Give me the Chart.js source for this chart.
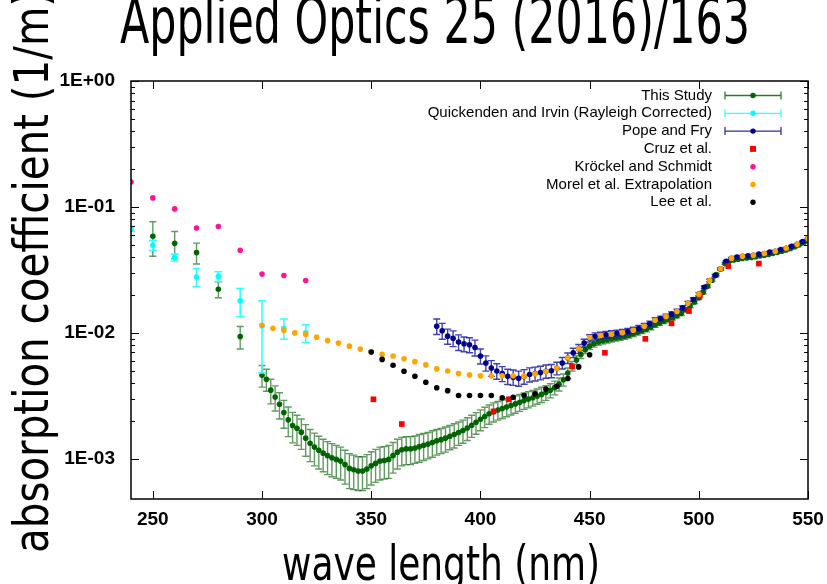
<!DOCTYPE html>
<html>
<head>
    <title>Absorption coefficient</title>
    <script src="https://cdn.jsdelivr.net/npm/chart.js"></script>
    <style>
        body { margin: 0; background: #fff; overflow: hidden; }
    </style>
</head>
<body>
    <canvas id="absChart" width="827" height="584"></canvas>

    <script>
        // axis ticks
        var xTicks = [250, 300, 350, 400, 450, 500, 550];
        var yTicks = [1, 0.1, 0.01, 0.001];
        var yTickLabels = ['1E+00', '1E-01', '1E-02', '1E-03'];

        // This Study (value, +/- error)
        var studyWl = [250, 260, 270, 280, 290,
            300, 302, 304, 306, 308, 310,
            312, 314, 316, 318, 320, 322, 324, 326, 328, 330,
            332, 334, 336, 338, 340, 342, 344, 346, 348, 350,
            352, 354, 356, 358, 360, 362, 364, 366, 368, 370,
            372, 374, 376, 378, 380, 382, 384, 386, 388, 390,
            392, 394, 396, 398, 400, 402, 404, 406, 408, 410,
            412, 414, 416, 418, 420, 422, 424, 426, 428, 430,
            432, 434, 436, 438, 440, 442, 444, 446, 448, 450,
            452, 454, 456, 458, 460, 462, 464, 466, 468, 470,
            472, 474, 476, 478, 480, 482, 484, 486, 488, 490,
            492, 494, 496, 498, 500, 502, 504, 506, 508, 510,
            512, 514, 516, 518, 520, 522, 524, 526, 528, 530,
            532, 534, 536, 538, 540, 542, 544, 546, 548, 550];
        var studyAbs = [0.0584, 0.0514, 0.0434, 0.0222, 0.00935,
            0.00461, 0.00429, 0.00351, 0.00310, 0.00271, 0.00233,
            0.00204, 0.00184, 0.00175, 0.00163, 0.00146, 0.00133, 0.00124, 0.00117, 0.00111, 0.00106,
            0.00102, 0.00099, 0.00096, 0.00090, 0.00084, 0.00082, 0.00080, 0.00080, 0.00083, 0.00088,
            0.00092, 0.00096, 0.00097, 0.00099, 0.00106, 0.00113, 0.00118, 0.00120, 0.00120, 0.00122,
            0.00125, 0.00128, 0.00131, 0.00135, 0.00139, 0.00142, 0.00146, 0.00151, 0.00156, 0.00162,
            0.00168, 0.00176, 0.00185, 0.00195, 0.00206, 0.00217, 0.00228, 0.00237, 0.00244, 0.00251,
            0.00258, 0.00265, 0.00273, 0.00281, 0.00290, 0.00298, 0.00306, 0.00315, 0.00325, 0.00336,
            0.00350, 0.00368, 0.00392, 0.00425, 0.00480, 0.00545, 0.00610, 0.00675, 0.00735, 0.00785,
            0.00820, 0.00845, 0.00865, 0.00880, 0.00895, 0.00910, 0.00925, 0.00940, 0.00960, 0.00985,
            0.01010, 0.01040, 0.01070, 0.01110, 0.01160, 0.01200, 0.01240, 0.01280, 0.01320, 0.01370,
            0.01430, 0.01530, 0.01640, 0.01760, 0.01900, 0.02100, 0.02350, 0.02620, 0.02900, 0.03200,
            0.03550, 0.03720, 0.03800, 0.03850, 0.03900, 0.03930, 0.03970, 0.04020, 0.04080, 0.04130,
            0.04200, 0.04280, 0.04360, 0.04450, 0.04550, 0.04680, 0.04830, 0.05000, 0.05200, 0.05400];
        var studyErr = [0.0178, 0.0125, 0.0082, 0.0032, 0.0019,
            0.00090, 0.00085, 0.00078, 0.00070, 0.00064, 0.00058,
            0.00054, 0.00050, 0.00047, 0.00044, 0.00041, 0.00038, 0.00036, 0.00034, 0.00032, 0.00031,
            0.00030, 0.00029, 0.00028, 0.00027, 0.00026, 0.00025, 0.00024, 0.00024, 0.00025, 0.00026,
            0.00027, 0.00028, 0.00028, 0.00029, 0.00029, 0.00030, 0.00030, 0.00030, 0.00030, 0.00030,
            0.00031, 0.00031, 0.00031, 0.00032, 0.00032, 0.00032, 0.00033, 0.00033, 0.00034, 0.00034,
            0.00035, 0.00036, 0.00037, 0.00038, 0.00039, 0.00040, 0.00040, 0.00041, 0.00041, 0.00042,
            0.00042, 0.00042, 0.00043, 0.00043, 0.00043, 0.00044, 0.00044, 0.00044, 0.00045, 0.00045,
            0.00045, 0.00046, 0.00046, 0.00047, 0.00047, 0.00048, 0.00048, 0.00048, 0.00049, 0.00049,
            0.00049, 0.00049, 0.00050, 0.00050, 0.00050, 0.00050, 0.00050, 0.00050, 0.00050, 0.00050,
            0.00050, 0.00051, 0.00051, 0.00052, 0.00052, 0.00053, 0.00053, 0.00054, 0.00054, 0.00055,
            0.00055, 0.00056, 0.00056, 0.00057, 0.00057, 0.00058, 0.00058, 0.00059, 0.00059, 0.00060,
            0.00060, 0.00060, 0.00060, 0.00060, 0.00060, 0.00060, 0.00060, 0.00060, 0.00060, 0.00060,
            0.00060, 0.00060, 0.00060, 0.00060, 0.00060, 0.00060, 0.00060, 0.00060, 0.00060, 0.00060];

        // Quickenden and Irvin (Rayleigh corrected)
        var quickWl = [240, 250, 260, 270, 280, 290, 300, 310, 320];
        var quickAbs = [0.067, 0.0496, 0.0397, 0.0278, 0.0281, 0.0180, 0.0114, 0.0109, 0.0100];
        var quickErr = [0.003, 0.0045, 0.0025, 0.0045, 0.0025, 0.0045, 0.0066, 0.0020, 0.0016];

        // Pope and Fry
        var popeWl = [380, 382.5, 385, 387.5, 390, 392.5, 395, 397.5,
            400, 402.5, 405, 407.5, 410, 412.5, 415, 417.5,
            420, 422.5, 425, 427.5, 430, 432.5, 435, 437.5,
            440, 442.5, 445, 447.5, 450, 452.5, 455, 457.5,
            460, 462.5, 465, 467.5, 470, 472.5, 475, 477.5,
            480, 482.5, 485, 487.5, 490, 492.5, 495, 497.5,
            500, 502.5, 505, 507.5, 510, 512.5, 515, 517.5,
            520, 522.5, 525, 527.5, 530, 532.5, 535, 537.5,
            540, 542.5, 545, 547.5, 550];
        var popeAbs = [0.0113, 0.0104, 0.00942, 0.00908, 0.00845, 0.00819, 0.00805, 0.00766,
            0.00656, 0.00577, 0.00527, 0.00499, 0.00475, 0.00452, 0.00445, 0.00437,
            0.00451, 0.00468, 0.00475, 0.00484, 0.00496, 0.00501, 0.00524, 0.00577,
            0.00632, 0.00696, 0.00748, 0.00830, 0.00908, 0.00940, 0.00953, 0.00965,
            0.00980, 0.00993, 0.01005, 0.01025, 0.01050, 0.01085, 0.01130, 0.01180,
            0.01260, 0.01300, 0.01350, 0.01410, 0.01480, 0.01580, 0.01720, 0.01840,
            0.02030, 0.02300, 0.02610, 0.02850, 0.03230, 0.03700, 0.03920, 0.04010,
            0.04060, 0.04100, 0.04140, 0.04220, 0.04270, 0.04380, 0.04450, 0.04590,
            0.04700, 0.04880, 0.05050, 0.05310, 0.05600];
        var popeErr = [0.0016, 0.0015, 0.0013, 0.0013, 0.0012, 0.0011, 0.0011, 0.0011,
            0.0009, 0.0008, 0.00075, 0.0007, 0.00065, 0.00063, 0.00062, 0.0006,
            0.0006, 0.0006, 0.0006, 0.0006, 0.0006, 0.0006, 0.0006, 0.0006,
            0.0006, 0.0006, 0.0006, 0.0006, 0.0006, 0.0006, 0.0006, 0.0006,
            0.0006, 0.0006, 0.0006, 0.0006, 0.0006, 0.0006, 0.0006, 0.0006,
            0.0006, 0.0006, 0.0006, 0.0006, 0.0006, 0.0006, 0.0006, 0.0006,
            0.0006, 0.0006, 0.0006, 0.0006, 0.0006, 0.0006, 0.0006, 0.0006,
            0.0006, 0.0006, 0.0006, 0.0006, 0.0006, 0.0006, 0.0006, 0.0006,
            0.0006, 0.0006, 0.0006, 0.0006, 0.0006];

        // Cruz et al.
        var cruzWl = [351, 364, 406, 413, 442, 457, 475.5, 487.5, 495.5, 500.5, 513.5, 527.5];
        var cruzAbs = [0.00297, 0.00189, 0.00238, 0.00297, 0.0054, 0.00696, 0.00897, 0.0119, 0.0149, 0.0198, 0.0339, 0.0355];

        // Kröckel and Schmidt
        var krockelWl = [240, 250, 260, 270, 280, 290, 300, 310, 320];
        var krockelAbs = [0.158, 0.118, 0.0965, 0.068, 0.070, 0.0453, 0.0293, 0.0285, 0.0261];

        // Morel et al. extrapolation
        var morelWl = [300, 305, 310, 315, 320, 325, 330, 335, 340, 345,
            350, 355, 360, 365, 370, 375, 380, 385, 390, 395,
            400, 405, 410, 415, 420, 425, 430, 435, 440, 445,
            450, 455, 460, 465, 470, 475, 480, 485, 490, 495,
            500, 505, 510, 515, 520, 525, 530, 535, 540, 545, 550];
        var morelAbs = [0.0115, 0.0109, 0.0105, 0.0100, 0.00977, 0.00925, 0.00869, 0.0083, 0.00785, 0.00744,
            0.00708, 0.00675, 0.00656, 0.00624, 0.00591, 0.00557, 0.00518, 0.00499, 0.00475, 0.00464,
            0.00456, 0.00456, 0.00456, 0.00456, 0.00453, 0.00473, 0.00493, 0.00524, 0.00632, 0.00748,
            0.00918, 0.00953, 0.00977, 0.01005, 0.0105, 0.0113, 0.0126, 0.0135, 0.0148, 0.0172,
            0.0203, 0.0261, 0.0323, 0.0392, 0.0406, 0.0414, 0.0427, 0.0445, 0.047, 0.0505, 0.056];

        // Lee et al.
        var leeWl = [350, 355, 360, 365, 370, 375, 380, 385, 390, 395, 400,
            405, 410, 415, 420, 425, 430, 435, 440, 445, 450];
        var leeAbs = [0.00705, 0.00616, 0.00553, 0.00496, 0.00453, 0.00406, 0.00367, 0.00348, 0.00318, 0.00318, 0.00318,
            0.00318, 0.00306, 0.00308, 0.00318, 0.00329, 0.00358, 0.00376, 0.00434, 0.00537, 0.00671];

        function toPoints(xs, ys) {
            return xs.map(function(x, i) { return {x: x, y: ys[i]}; });
        }

        // error bars, drawn just under each dataset's points
        var errorBars = {
            id: 'errorBars',
            beforeDatasetDraw: function(chart, args) {
                var ds = chart.data.datasets[args.index];
                if (!ds.errors) return;
                var ctx = chart.ctx, xs = chart.scales.x, ys = chart.scales.y, area = chart.chartArea;
                ctx.save();
                ctx.beginPath();
                ctx.rect(area.left, area.top, area.right - area.left, area.bottom - area.top);
                ctx.clip();
                ctx.strokeStyle = ds.errorColor;
                ctx.lineWidth = ds.errorWidth;
                ds.data.forEach(function(p, i) {
                    var e = ds.errors[i];
                    var px = xs.getPixelForValue(p.x);
                    var top = ys.getPixelForValue(p.y + e);
                    var bot = ys.getPixelForValue(Math.max(p.y - e, 1e-6));
                    var c = ds.capHalf;
                    ctx.beginPath();
                    ctx.moveTo(px, top); ctx.lineTo(px, bot);
                    ctx.moveTo(px - c, top); ctx.lineTo(px + c, top);
                    ctx.moveTo(px - c, bot); ctx.lineTo(px + c, bot);
                    ctx.stroke();
                });
                ctx.restore();
            }
        };

        // gnuplot style frame with inward ticks
        var frame = {
            id: 'frame',
            afterDatasetsDraw: function(chart) {
                var ctx = chart.ctx, a = chart.chartArea, xs = chart.scales.x, ys = chart.scales.y;
                ctx.save();
                ctx.strokeStyle = '#000';
                ctx.lineWidth = 1.5;
                ctx.strokeRect(a.left, a.top, a.right - a.left, a.bottom - a.top);
                ctx.lineWidth = 1;
                ctx.beginPath();
                xTicks.forEach(function(v) {
                    var px = Math.round(xs.getPixelForValue(v)) + 0.5;
                    ctx.moveTo(px, a.bottom); ctx.lineTo(px, a.bottom - 8);
                    ctx.moveTo(px, a.top); ctx.lineTo(px, a.top + 8);
                });
                yTicks.forEach(function(d) {
                    for (var m = 1; m <= 9; m++) {
                        var v = d * m;
                        if (v < ys.min || v > ys.max) continue;
                        var len = m === 1 ? 8 : 4;
                        var py = Math.round(ys.getPixelForValue(v)) + 0.5;
                        ctx.moveTo(a.left, py); ctx.lineTo(a.left + len, py);
                        ctx.moveTo(a.right, py); ctx.lineTo(a.right - len, py);
                    }
                });
                ctx.stroke();
                ctx.restore();
            }
        };

        // legend in the top right corner, text right aligned, sample to its right
        var keyBox = {
            id: 'keyBox',
            afterDraw: function(chart) {
                var ctx = chart.ctx;
                var textRight = 712, sx = 753, half = 28, rowY = 95.5, step = 17.8;
                ctx.save();
                ctx.font = '15px "Liberation Sans", Arial, sans-serif';
                ctx.textAlign = 'right';
                ctx.textBaseline = 'middle';
                chart.data.datasets.forEach(function(ds, i) {
                    var y = rowY + i * step;
                    ctx.fillStyle = '#000';
                    ctx.fillText(ds.label, textRight, y);
                    if (ds.errors) {
                        ctx.strokeStyle = ds.keyLine;
                        ctx.lineWidth = 1.3;
                        ctx.beginPath();
                        ctx.moveTo(sx - half, y); ctx.lineTo(sx + half, y);
                        ctx.moveTo(sx - half, y - 4); ctx.lineTo(sx - half, y + 4);
                        ctx.moveTo(sx + half, y - 4); ctx.lineTo(sx + half, y + 4);
                        ctx.stroke();
                    }
                    ctx.fillStyle = ds.pointBackgroundColor;
                    if (ds.pointStyle === 'rect') {
                        ctx.fillRect(sx - 3, y - 3, 6, 6);
                    } else {
                        ctx.beginPath();
                        ctx.arc(sx, y, 2.7, 0, Math.PI * 2);
                        ctx.fill();
                    }
                });
                ctx.restore();
            }
        };

        function fitText(ctx, text, width) {
            var w = ctx.measureText(text).width;
            ctx.scale(width / w, 1);
            ctx.fillText(text, 0, 0);
        }

        // big slide titles
        var bigTitles = {
            id: 'bigTitles',
            afterDraw: function(chart) {
                var ctx = chart.ctx;
                ctx.save();
                ctx.fillStyle = '#000';
                ctx.textAlign = 'left';
                ctx.textBaseline = 'alphabetic';
                ctx.font = '64px "DejaVu Sans", sans-serif';
                ctx.save(); ctx.translate(120, 43); fitText(ctx, 'Applied Optics 25 (2016)/163', 630); ctx.restore();
                ctx.font = '48px "DejaVu Sans", sans-serif';
                ctx.save(); ctx.translate(282, 580); fitText(ctx, 'wave length (nm)', 318); ctx.restore();
                ctx.save(); ctx.translate(48, 553); ctx.rotate(-Math.PI / 2); fitText(ctx, 'absorption coefficient (1/m)', 562); ctx.restore();
                ctx.restore();
            }
        };

        function dotSet(label, xs, ys, color, order) {
            return {
                label: label,
                data: toPoints(xs, ys),
                pointBackgroundColor: color,
                backgroundColor: color,
                pointBorderWidth: 0,
                pointRadius: 2.8,
                showLine: false,
                order: order
            };
        }

        var study = dotSet('This Study', studyWl, studyAbs, '#006400', 6);
        study.errors = studyErr; study.errorColor = 'rgba(10,100,10,0.65)'; study.errorWidth = 1.4; study.capHalf = 3.5; study.keyLine = '#2a7a2a';
        var quick = dotSet('Quickenden and Irvin (Rayleigh Corrected)', quickWl, quickAbs, '#00ffff', 5);
        quick.errors = quickErr; quick.errorColor = '#33ffff'; quick.errorWidth = 1.6; quick.capHalf = 4; quick.keyLine = '#33ffff';
        var pope = dotSet('Pope and Fry', popeWl, popeAbs, '#00008b', 4);
        pope.errors = popeErr; pope.errorColor = 'rgba(30,30,160,0.85)'; pope.errorWidth = 1.4; pope.capHalf = 3.5; pope.keyLine = '#3030a0';
        var cruz = dotSet('Cruz et al.', cruzWl, cruzAbs, '#ff0000', 3);
        cruz.pointStyle = 'rect'; cruz.pointRadius = 4;
        var krockel = dotSet('Kröckel and Schmidt', krockelWl, krockelAbs, '#ff1493', 2);
        var morel = dotSet('Morel et al. Extrapolation', morelWl, morelAbs, '#ffa500', 1);
        var lee = dotSet('Lee et al.', leeWl, leeAbs, '#000000', 0);

        var tickFont = {family: '"Liberation Sans", Arial, sans-serif', size: 19, weight: 'bold'};

        var absChart = new Chart(document.getElementById('absChart').getContext('2d'), {
            type: 'scatter',
            data: { datasets: [study, quick, pope, cruz, krockel, morel, lee] },
            options: {
                responsive: false,
                animation: false,
                layout: { padding: { top: 81, right: 19, left: 0, bottom: 0 } },
                plugins: {
                    legend: { display: false },
                    tooltip: { enabled: false },
                    title: { display: false }
                },
                scales: {
                    x: {
                        type: 'linear',
                        min: 240,
                        max: 550,
                        grid: { display: false },
                        border: { display: false },
                        afterBuildTicks: function(axis) {
                            axis.ticks = xTicks.map(function(v) { return {value: v}; });
                        },
                        afterFit: function(axis) { axis.height = 85; },
                        ticks: {
                            color: '#000',
                            font: tickFont,
                            padding: 1,
                            maxRotation: 0,
                            autoSkip: false
                        }
                    },
                    y: {
                        type: 'logarithmic',
                        min: 0.00048,
                        max: 1,
                        grid: { display: false },
                        border: { display: false },
                        afterBuildTicks: function(axis) {
                            axis.ticks = yTicks.map(function(v) { return {value: v}; });
                        },
                        afterFit: function(axis) { axis.width = 131; },
                        ticks: {
                            color: '#000',
                            font: tickFont,
                            padding: 8,
                            autoSkip: false,
                            callback: function(value, index) { return yTickLabels[index]; }
                        }
                    }
                }
            },
            plugins: [errorBars, frame, keyBox, bigTitles]
        });
    </script>
</body>
</html>
